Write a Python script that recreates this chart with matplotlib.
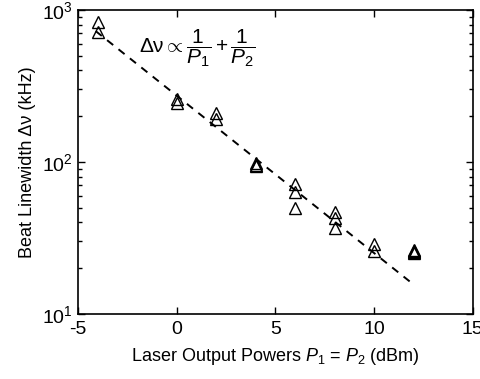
import matplotlib
matplotlib.use("Agg")
import matplotlib.pyplot as plt
from matplotlib.ticker import LogLocator

plt.rcParams['font.family'] = ['Liberation Sans', 'DejaVu Sans']
plt.rcParams['mathtext.fontset'] = 'custom'
plt.rcParams['mathtext.rm'] = 'Liberation Sans'
plt.rcParams['mathtext.it'] = 'Liberation Sans:italic'
plt.rcParams['mathtext.sf'] = 'Liberation Sans'
plt.rcParams['axes.unicode_minus'] = False

# measured beat linewidths (kHz) vs laser output power (dBm)
power = [-4, -4, 0, 0, 2, 2, 4, 4, 4, 6, 6, 6, 8, 8, 8, 10, 10, 12, 12, 12, 12]
linewidth = [835, 720, 260, 245, 210, 192, 98, 95, 94, 72, 63, 50,
             47, 42.5, 37, 29, 26, 26.5, 26, 25.5, 25]

# 1/P fit line end points
fit_power = [-4.1, 11.9]
fit_linewidth = [725, 16]

fig = plt.figure(figsize=(4.81, 3.79), dpi=100)
ax = fig.add_axes([0.162, 0.1715, 0.821, 0.8025])

ax.plot(fit_power, fit_linewidth, 'k--', lw=1.4, dashes=(4, 3.5))
ax.plot(power, linewidth, '^', ms=8, mfc='none', mec='k', mew=1.0, ls='none')

ax.set_yscale('log')
ax.set_xlim(-5, 15)
ax.set_ylim(10, 1000)
ax.set_xticks([-5, 0, 5, 10, 15])
ax.yaxis.set_minor_locator(LogLocator(base=10, subs=range(2, 10)))
ax.yaxis.set_minor_formatter(plt.NullFormatter())

ax.tick_params(which='both', direction='in', top=True, right=True,
               labelsize=14, width=1.0)
ax.tick_params(which='major', length=5)
ax.tick_params(which='minor', length=3)
ax.tick_params(axis='x', pad=5)
ax.tick_params(axis='y', pad=4)
for s in ax.spines.values():
    s.set_linewidth(1.2)

ax.set_xlabel(r'Laser Output Powers $P_1$ = $P_2$ (dBm)', fontsize=13, labelpad=6)
ax.set_ylabel('Beat Linewidth \u0394\u03bd (kHz)', fontsize=13, labelpad=4)

ax.text(1.05, 560, r'$\mathrm{\Delta\nu} \propto \dfrac{1}{P_1} + \dfrac{1}{P_2}$',
        fontsize=15, ha='center', va='center')

fig.savefig('out.png', dpi=100)
